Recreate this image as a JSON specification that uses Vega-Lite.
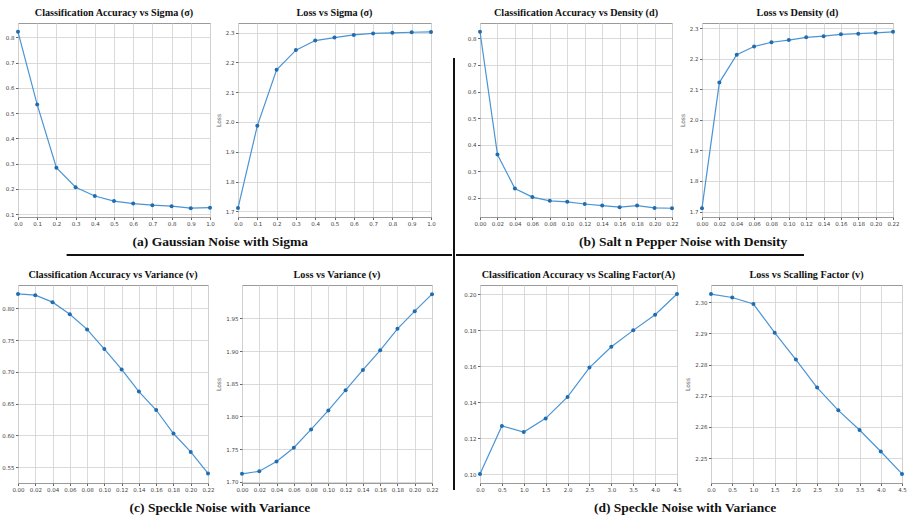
{
  "$schema": "https://vega.github.io/schema/vega-lite/v6.json",
  "padding": {"left": 1, "top": 7, "right": 0, "bottom": 0},
  "datasets": {
    "gauss": [
      {"x": 0.0, "acc": 0.822, "loss": 1.711},
      {"x": 0.1, "acc": 0.534, "loss": 1.987},
      {"x": 0.2, "acc": 0.284, "loss": 2.175},
      {"x": 0.3, "acc": 0.207, "loss": 2.241},
      {"x": 0.4, "acc": 0.172, "loss": 2.273},
      {"x": 0.5, "acc": 0.152, "loss": 2.283},
      {"x": 0.6, "acc": 0.142, "loss": 2.292},
      {"x": 0.7, "acc": 0.136, "loss": 2.297},
      {"x": 0.8, "acc": 0.132, "loss": 2.299},
      {"x": 0.9, "acc": 0.124, "loss": 2.301},
      {"x": 1.0, "acc": 0.126, "loss": 2.302}
    ],
    "salt": [
      {"x": 0.00, "acc": 0.825, "loss": 1.711},
      {"x": 0.02, "acc": 0.363, "loss": 2.122},
      {"x": 0.04, "acc": 0.235, "loss": 2.213},
      {"x": 0.06, "acc": 0.203, "loss": 2.240},
      {"x": 0.08, "acc": 0.189, "loss": 2.254},
      {"x": 0.10, "acc": 0.185, "loss": 2.261},
      {"x": 0.12, "acc": 0.177, "loss": 2.270},
      {"x": 0.14, "acc": 0.171, "loss": 2.274},
      {"x": 0.16, "acc": 0.165, "loss": 2.280},
      {"x": 0.18, "acc": 0.171, "loss": 2.282},
      {"x": 0.20, "acc": 0.162, "loss": 2.285},
      {"x": 0.22, "acc": 0.161, "loss": 2.288}
    ],
    "speckle": [
      {"x": 0.00, "acc": 0.823, "loss": 1.712},
      {"x": 0.02, "acc": 0.821, "loss": 1.716},
      {"x": 0.04, "acc": 0.810, "loss": 1.731},
      {"x": 0.06, "acc": 0.791, "loss": 1.752},
      {"x": 0.08, "acc": 0.767, "loss": 1.780},
      {"x": 0.10, "acc": 0.736, "loss": 1.809},
      {"x": 0.12, "acc": 0.704, "loss": 1.840},
      {"x": 0.14, "acc": 0.669, "loss": 1.871},
      {"x": 0.16, "acc": 0.640, "loss": 1.901},
      {"x": 0.18, "acc": 0.603, "loss": 1.934},
      {"x": 0.20, "acc": 0.574, "loss": 1.961},
      {"x": 0.22, "acc": 0.540, "loss": 1.987}
    ],
    "scale": [
      {"x": 0.0, "acc": 0.1000, "loss": 2.3026},
      {"x": 0.5, "acc": 0.1267, "loss": 2.3015},
      {"x": 1.0, "acc": 0.1233, "loss": 2.2994},
      {"x": 1.5, "acc": 0.1309, "loss": 2.2902},
      {"x": 2.0, "acc": 0.1428, "loss": 2.2816},
      {"x": 2.5, "acc": 0.1591, "loss": 2.2726},
      {"x": 3.0, "acc": 0.1707, "loss": 2.2653},
      {"x": 3.5, "acc": 0.1798, "loss": 2.2590},
      {"x": 4.0, "acc": 0.1885, "loss": 2.2521},
      {"x": 4.5, "acc": 0.2000, "loss": 2.2449}
    ]
  },
  "concat": [
    {
      "concat": [
        {
          "hconcat": [
            {
              "data": {"name": "gauss"},
              "width": 192, "height": 194,
              "title": "Classification Accuracy vs Sigma (σ)",
              "mark": {"type": "line", "color": "#4a94d4", "strokeWidth": 1.2, "point": {"filled": true, "size": 16, "color": "#1f6db0"}},
              "encoding": {
                "x": {"field": "x", "type": "quantitative", "scale": {"domain": [0, 1], "nice": false}, "axis": {"title": null, "values": [0, 0.1, 0.2, 0.3, 0.4, 0.5, 0.6, 0.7, 0.8, 0.9, 1.0], "format": ".1f"}},
                "y": {"field": "acc", "type": "quantitative", "scale": {"domain": [0.089, 0.857], "nice": false, "zero": false}, "axis": {"title": null, "values": [0.1, 0.2, 0.3, 0.4, 0.5, 0.6, 0.7, 0.8], "format": ".1f"}}
              }
            },
            {
              "data": {"name": "gauss"},
              "width": 193, "height": 194,
              "title": "Loss vs Sigma (σ)",
              "mark": {"type": "line", "color": "#4a94d4", "strokeWidth": 1.2, "point": {"filled": true, "size": 16, "color": "#1f6db0"}},
              "encoding": {
                "x": {"field": "x", "type": "quantitative", "scale": {"domain": [0, 1], "nice": false}, "axis": {"title": null, "values": [0, 0.1, 0.2, 0.3, 0.4, 0.5, 0.6, 0.7, 0.8, 0.9, 1.0], "format": ".1f"}},
                "y": {"field": "loss", "type": "quantitative", "scale": {"domain": [1.681, 2.332], "nice": false, "zero": false}, "axis": {"title": "Loss", "values": [1.7, 1.8, 1.9, 2.0, 2.1, 2.2, 2.3], "format": ".1f"}}
              }
            }
          ],
          "spacing": 28,
          "bounds": "flush",
          "title": {"text": "(a) Gaussian Noise with Sigma", "orient": "bottom", "anchor": "middle", "fontSize": 13.5, "offset": 8}
        },
        {
          "data": {"values": [{}]},
          "width": 434, "height": 12,
          "view": {"stroke": null},
          "mark": {"type": "rule", "color": "#111", "strokeWidth": 2},
          "encoding": {
            "x": {"datum": 0.112, "scale": {"domain": [0, 1]}, "axis": null},
            "x2": {"datum": 1},
            "y": {"datum": 0.667, "scale": {"domain": [-1, 1]}, "axis": null}
          }
        },
        {
          "hconcat": [
            {
              "data": {"name": "speckle"},
              "width": 190, "height": 198,
              "title": "Classification Accuracy vs Variance (v)",
              "mark": {"type": "line", "color": "#4a94d4", "strokeWidth": 1.2, "point": {"filled": true, "size": 16, "color": "#1f6db0"}},
              "encoding": {
                "x": {"field": "x", "type": "quantitative", "scale": {"domain": [0, 0.22], "nice": false}, "axis": {"title": null, "values": [0, 0.02, 0.04, 0.06, 0.08, 0.1, 0.12, 0.14, 0.16, 0.18, 0.2, 0.22], "format": ".2f"}},
                "y": {"field": "acc", "type": "quantitative", "scale": {"domain": [0.525, 0.837], "nice": false, "zero": false}, "axis": {"title": null, "values": [0.55, 0.6, 0.65, 0.7, 0.75, 0.8], "format": ".2f"}}
              }
            },
            {
              "data": {"name": "speckle"},
              "width": 190, "height": 198,
              "title": "Loss vs Variance (v)",
              "mark": {"type": "line", "color": "#4a94d4", "strokeWidth": 1.2, "point": {"filled": true, "size": 16, "color": "#1f6db0"}},
              "encoding": {
                "x": {"field": "x", "type": "quantitative", "scale": {"domain": [0, 0.22], "nice": false}, "axis": {"title": null, "values": [0, 0.02, 0.04, 0.06, 0.08, 0.1, 0.12, 0.14, 0.16, 0.18, 0.2, 0.22], "format": ".2f"}},
                "y": {"field": "loss", "type": "quantitative", "scale": {"domain": [1.698, 2.001], "nice": false, "zero": false}, "axis": {"title": "Loss", "values": [1.7, 1.75, 1.8, 1.85, 1.9, 1.95], "format": ".2f"}}
              }
            }
          ],
          "spacing": 34,
          "bounds": "flush",
          "title": {"text": "(c) Speckle Noise with Variance", "orient": "bottom", "anchor": "middle", "fontSize": 13.5, "offset": 8}
        }
      ],
      "columns": 1,
      "align": "none",
      "spacing": 4
    },
    {
      "data": {"values": [{}]},
      "width": 2, "height": 467,
      "view": {"stroke": null},
      "mark": {"type": "rule", "color": "#111", "strokeWidth": 2},
      "encoding": {
        "x": {"datum": 0, "scale": {"domain": [-1, 1]}, "axis": null},
        "y": {"datum": 0, "scale": {"domain": [0, 1]}, "axis": null},
        "y2": {"datum": 0.925}
      }
    },
    {
      "concat": [
        {
          "hconcat": [
            {
              "data": {"name": "salt"},
              "width": 192, "height": 194,
              "title": "Classification Accuracy vs Density (d)",
              "mark": {"type": "line", "color": "#4a94d4", "strokeWidth": 1.2, "point": {"filled": true, "size": 16, "color": "#1f6db0"}},
              "encoding": {
                "x": {"field": "x", "type": "quantitative", "scale": {"domain": [0, 0.22], "nice": false}, "axis": {"title": null, "values": [0, 0.02, 0.04, 0.06, 0.08, 0.1, 0.12, 0.14, 0.16, 0.18, 0.2, 0.22], "format": ".2f"}},
                "y": {"field": "acc", "type": "quantitative", "scale": {"domain": [0.128, 0.858], "nice": false, "zero": false}, "axis": {"title": null, "values": [0.2, 0.3, 0.4, 0.5, 0.6, 0.7, 0.8], "format": ".1f"}}
              }
            },
            {
              "data": {"name": "salt"},
              "width": 191, "height": 194,
              "title": "Loss vs Density (d)",
              "mark": {"type": "line", "color": "#4a94d4", "strokeWidth": 1.2, "point": {"filled": true, "size": 16, "color": "#1f6db0"}},
              "encoding": {
                "x": {"field": "x", "type": "quantitative", "scale": {"domain": [0, 0.22], "nice": false}, "axis": {"title": null, "values": [0, 0.02, 0.04, 0.06, 0.08, 0.1, 0.12, 0.14, 0.16, 0.18, 0.2, 0.22], "format": ".2f"}},
                "y": {"field": "loss", "type": "quantitative", "scale": {"domain": [1.682, 2.317], "nice": false, "zero": false}, "axis": {"title": "Loss", "values": [1.7, 1.8, 1.9, 2.0, 2.1, 2.2, 2.3], "format": ".1f"}}
              }
            }
          ],
          "spacing": 30,
          "bounds": "flush",
          "title": {"text": "(b) Salt n Pepper Noise with Density", "orient": "bottom", "anchor": "middle", "fontSize": 13.5, "offset": 8}
        },
        {
          "data": {"values": [{}]},
          "width": 324, "height": 12,
          "view": {"stroke": null},
          "mark": {"type": "rule", "color": "#111", "strokeWidth": 2},
          "encoding": {
            "x": {"datum": -0.074, "scale": {"domain": [0, 1]}, "axis": null},
            "x2": {"datum": 1},
            "y": {"datum": 0.667, "scale": {"domain": [-1, 1]}, "axis": null}
          }
        },
        {
          "hconcat": [
            {
              "data": {"name": "scale"},
              "width": 197, "height": 198,
              "title": "Classification Accuracy vs Scaling Factor(A)",
              "mark": {"type": "line", "color": "#4a94d4", "strokeWidth": 1.2, "point": {"filled": true, "size": 16, "color": "#1f6db0"}},
              "encoding": {
                "x": {"field": "x", "type": "quantitative", "scale": {"domain": [0, 4.5], "nice": false}, "axis": {"title": null, "values": [0, 0.5, 1, 1.5, 2, 2.5, 3, 3.5, 4, 4.5], "format": ".1f"}},
                "y": {"field": "acc", "type": "quantitative", "scale": {"domain": [0.095, 0.205], "nice": false, "zero": false}, "axis": {"title": null, "values": [0.1, 0.12, 0.14, 0.16, 0.18, 0.2], "format": ".2f"}}
              }
            },
            {
              "data": {"name": "scale"},
              "width": 191, "height": 198,
              "title": "Loss vs Scalling Factor (v)",
              "mark": {"type": "line", "color": "#4a94d4", "strokeWidth": 1.2, "point": {"filled": true, "size": 16, "color": "#1f6db0"}},
              "encoding": {
                "x": {"field": "x", "type": "quantitative", "scale": {"domain": [0, 4.5], "nice": false}, "axis": {"title": null, "values": [0, 0.5, 1, 1.5, 2, 2.5, 3, 3.5, 4, 4.5], "format": ".1f"}},
                "y": {"field": "loss", "type": "quantitative", "scale": {"domain": [2.242, 2.3055], "nice": false, "zero": false}, "axis": {"title": "Loss", "values": [2.25, 2.26, 2.27, 2.28, 2.29, 2.3], "format": ".2f"}}
              }
            }
          ],
          "spacing": 34,
          "bounds": "flush",
          "title": {"text": "(d) Speckle Noise with Variance", "orient": "bottom", "anchor": "middle", "fontSize": 13.5, "offset": 8}
        }
      ],
      "columns": 1,
      "align": "none",
      "spacing": 4
    }
  ],
  "columns": 3,
  "align": "none",
  "spacing": 0,
  "config": {
    "view": {"stroke": "#9a9a9a", "strokeWidth": 1},
    "axis": {
      "labelFont": "DejaVu Sans", "labelFontSize": 5.5, "labelColor": "#444", "labelPadding": 1.5, "labelOverlap": false, "labelFlush": false,
      "tickColor": "#666", "tickSize": 2.5, "domain": false,
      "gridColor": "#d6d6d6", "gridWidth": 0.9,
      "titleFont": "DejaVu Sans", "titleFontSize": 6, "titleFontWeight": "normal", "titleColor": "#666", "titlePadding": 4
    },
    "title": {"font": "Liberation Serif", "fontSize": 10.2, "fontWeight": "bold", "color": "#111", "offset": 5}
  }
}
